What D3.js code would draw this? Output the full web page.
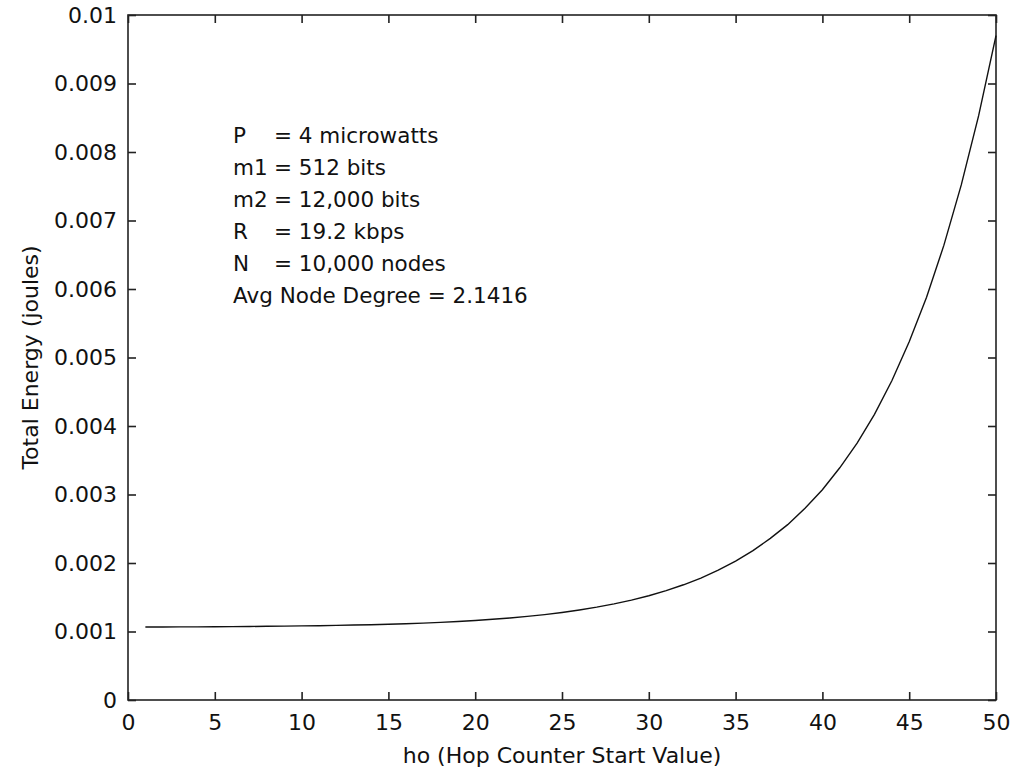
<!DOCTYPE html>
<html>
<head>
<meta charset="utf-8">
<style>
  body { margin: 0; background: #fff; }
  text { font-family: "DejaVu Sans", "Liberation Sans", Arial, sans-serif; fill: #111; }
</style>
</head>
<body>
<svg id="chart" width="1011" height="774"></svg>
<script src="https://d3js.org/d3.v7.min.js"></script>
<script>
    const WIDTH = 1011;
    const HEIGHT = 774;

    // hop counter start value (x) and total energy (y)
    const hops = [1, 2, 3, 4, 5, 6, 7, 8, 9, 10,
        11, 12, 13, 14, 15, 16, 17, 18, 19, 20,
        21, 22, 23, 24, 25, 26, 27, 28, 29, 30,
        31, 32, 33, 34, 35, 36, 37, 38, 39, 40,
        41, 42, 43, 44, 45, 46, 47, 48, 49, 50];
    const energy = [0.001065, 0.001066, 0.001067, 0.001068, 0.001069, 0.001071, 0.001073, 0.001076, 0.001079, 0.001082,
        0.001085, 0.001089, 0.001094, 0.001099, 0.001105, 0.001113, 0.001122, 0.001133, 0.001146, 0.001160,
        0.001178, 0.001198, 0.001221, 0.001247, 0.001278, 0.001314, 0.001355, 0.001403, 0.001458, 0.001522,
        0.001596, 0.001682, 0.001780, 0.001895, 0.002027, 0.002180, 0.002360, 0.002560, 0.002800, 0.003070,
        0.003390, 0.003750, 0.004170, 0.004660, 0.005230, 0.005880, 0.006640, 0.007520, 0.008530, 0.009700];

    const xTicks = [0, 5, 10, 15, 20, 25, 30, 35, 40, 45, 50];
    const yTicks = [0, 0.001, 0.002, 0.003, 0.004, 0.005, 0.006, 0.007, 0.008, 0.009, 0.01];
    const yTickLabels = ['0', '0.001', '0.002', '0.003', '0.004', '0.005', '0.006', '0.007', '0.008', '0.009', '0.01'];

    const notes = [
        ['P', '= 4 microwatts'],
        ['m1', '= 512 bits'],
        ['m2', '= 12,000 bits'],
        ['R', '= 19.2 kbps'],
        ['N', '= 10,000 nodes'],
        ['Avg Node Degree = 2.1416', '']
    ];

    const plot = {left: 128, right: 996, top: 15, bottom: 700};
    const svg = d3.select('#chart');

    let x = d3.scaleLinear().domain([0, 50]).range([plot.left, plot.right]);
    let y = d3.scaleLinear().domain([0, 0.01]).range([plot.bottom, plot.top]);

    // frame
    svg.append('rect')
        .attr('x', plot.left)
        .attr('y', plot.top)
        .attr('width', plot.right - plot.left)
        .attr('height', plot.bottom - plot.top)
        .attr('fill', 'none')
        .attr('stroke', '#222')
        .attr('stroke-width', 1.6);

    const TICK = 8;

    // bottom axis, ticks point inward; mirrored on top
    let bottomAxis = d3.axisBottom(x).tickValues(xTicks).tickSizeInner(-TICK).tickSizeOuter(0).tickPadding(14);
    let gx = svg.append('g').attr('transform', `translate(0,${plot.bottom})`).call(bottomAxis);
    let topAxis = d3.axisTop(x).tickValues(xTicks).tickSizeInner(-TICK).tickSizeOuter(0).tickFormat('');
    let gxt = svg.append('g').attr('transform', `translate(0,${plot.top})`).call(topAxis);

    let leftAxis = d3.axisLeft(y).tickValues(yTicks).tickSizeInner(-TICK).tickSizeOuter(0).tickPadding(11)
        .tickFormat((d, i) => yTickLabels[i]);
    let gy = svg.append('g').attr('transform', `translate(${plot.left},0)`).call(leftAxis);
    let rightAxis = d3.axisRight(y).tickValues(yTicks).tickSizeInner(-TICK).tickSizeOuter(0).tickFormat('');
    let gyr = svg.append('g').attr('transform', `translate(${plot.right},0)`).call(rightAxis);

    [gx, gxt, gy, gyr].forEach(function(g) {
        g.select('.domain').remove();
        g.selectAll('.tick line').attr('stroke', '#222').attr('stroke-width', 1.6);
        g.selectAll('.tick text')
            .style('font-family', '"DejaVu Sans", "Liberation Sans", Arial, sans-serif')
            .style('font-size', '22px')
            .attr('fill', '#111');
    });
    gx.selectAll('.tick text').attr('dy', '0.71em');

    // curve
    let line = d3.line()
        .x((d, i) => x(hops[i]))
        .y(d => y(d));
    svg.append('path')
        .datum(energy)
        .attr('d', line)
        .attr('fill', 'none')
        .attr('stroke', '#111')
        .attr('stroke-width', 1.4);

    // parameter notes
    let noteG = svg.append('g').style('font-size', '21.5px');
    notes.forEach(function(n, i) {
        let ty = 143 + i * 32;
        noteG.append('text').attr('x', 233).attr('y', ty).text(n[0]);
        if (n[1]) {
            noteG.append('text').attr('x', 274).attr('y', ty).text(n[1]);
        }
    });

    // axis titles
    svg.append('text')
        .attr('x', (plot.left + plot.right) / 2)
        .attr('y', 763)
        .attr('text-anchor', 'middle')
        .style('font-size', '22px')
        .text('ho (Hop Counter Start Value)');

    svg.append('text')
        .attr('transform', `translate(38,${(plot.top + plot.bottom) / 2}) rotate(-90)`)
        .attr('text-anchor', 'middle')
        .style('font-size', '22px')
        .text('Total Energy (joules)');
</script>
</body>
</html>
